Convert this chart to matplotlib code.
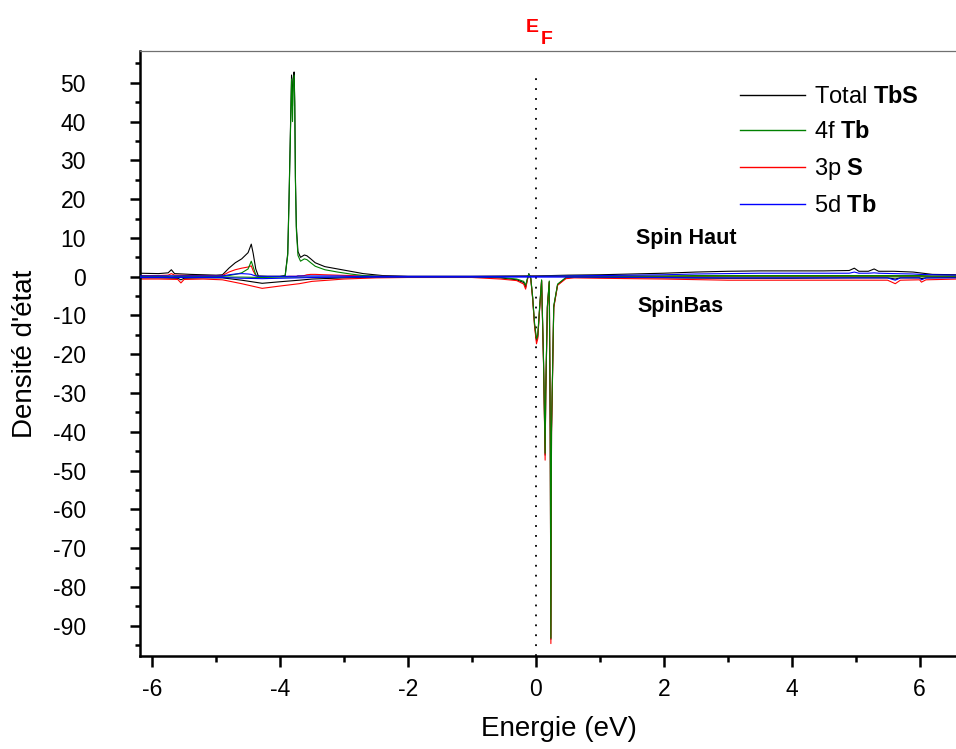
import matplotlib
matplotlib.use('Agg')
import matplotlib.pyplot as plt
from matplotlib.ticker import MultipleLocator

plt.rcParams['font.family'] = ['Liberation Sans', 'DejaVu Sans']
plt.rcParams['mathtext.fontset'] = 'custom'
plt.rcParams['mathtext.rm'] = 'Liberation Sans'
plt.rcParams['mathtext.bf'] = 'Liberation Sans:bold'
plt.rcParams['axes.unicode_minus'] = False

# spin up (positive)
e_up = [-6.2, -5.9, -5.75, -5.7, -5.65, -5.4, -5.0, -4.9, -4.8, -4.7, -4.6, -4.5,
        -4.45, -4.42, -4.38, -4.34, -4.2, -4.0, -3.92, -3.88, -3.86, -3.84, -3.82,
        -3.805, -3.795, -3.78, -3.77, -3.76, -3.745, -3.72, -3.68, -3.62, -3.58,
        -3.52, -3.45, -3.3, -3.1, -2.9, -2.7, -2.4, -2.0, -1.0, 0.0, 0.5, 1.0, 1.5,
        2.0, 2.5, 3.0, 3.5, 4.0, 4.5, 4.9, 4.98, 5.05, 5.2, 5.29, 5.36, 5.6, 5.9,
        6.0, 6.2, 6.6]
total_up = [0.9, 0.8, 1.0, 1.8, 0.8, 0.6, 0.4, 0.5, 2.2, 3.6, 4.6, 6.2,
            8.4, 6.0, 2.0, 0.2, 0.1, 0.1, 0.3, 6.0, 20.0, 36.0, 52.0,
            44.0, 51.0, 52.8, 45.0, 26.0, 13.0, 6.5, 5.0, 5.6, 5.4,
            4.6, 3.6, 2.6, 2.0, 1.4, 0.8, 0.3, 0.1, 0.1, 0.2, 0.4, 0.5, 0.7,
            0.9, 1.2, 1.4, 1.5, 1.5, 1.5, 1.6, 2.2, 1.4, 1.4, 2.0, 1.4, 1.4, 1.2,
            1.0, 0.6, 0.5]
f4_up = [0.1, 0.1, 0.1, 0.2, 0.1, 0.1, 0.1, 0.1, 0.3, 0.6, 1.0, 2.0,
         4.0, 2.5, 0.5, 0.05, 0.05, 0.05, 0.2, 5.5, 19.0, 35.0, 51.0,
         40.0, 50.0, 52.0, 44.0, 25.0, 12.0, 5.5, 4.0, 4.6, 4.4,
         3.6, 2.7, 1.8, 1.2, 0.7, 0.3, 0.1, 0.05, 0.05, 0.1, 0.2, 0.2, 0.2,
         0.2, 0.3, 0.3, 0.3, 0.3, 0.3, 0.3, 0.3, 0.3, 0.3, 0.3, 0.3, 0.3, 0.3,
         0.3, 0.2, 0.2]
p3_up = [0.3, 0.3, 0.4, 0.8, 0.4, 0.3, 0.3, 0.3, 1.2, 1.8, 2.2, 2.5,
         2.8, 1.5, 0.3, 0.05, 0.05, 0.05, 0.05, 0.05, 0.1, 0.1, 0.1,
         0.1, 0.1, 0.1, 0.1, 0.1, 0.1, 0.2, 0.2, 0.3, 0.5,
         0.6, 0.6, 0.5, 0.4, 0.3, 0.2, 0.1, 0.05, 0.05, 0.1, 0.1, 0.1, 0.1,
         0.1, 0.1, 0.1, 0.1, 0.1, 0.1, 0.1, 0.1, 0.1, 0.1, 0.1, 0.1, 0.1, 0.1,
         0.1, 0.1, 0.1]
d5_up = [0.2, 0.2, 0.2, 0.2, 0.2, 0.2, 0.2, 0.2, 0.5, 0.7, 0.8, 0.7,
         0.6, 0.4, 0.2, 0.1, 0.1, 0.1, 0.1, 0.1, 0.1, 0.1, 0.1,
         0.1, 0.1, 0.1, 0.1, 0.1, 0.1, 0.2, 0.2, 0.2, 0.2,
         0.2, 0.2, 0.2, 0.2, 0.1, 0.1, 0.1, 0.1, 0.1, 0.1, 0.2, 0.3, 0.4,
         0.5, 0.7, 0.8, 0.9, 0.9, 0.9, 0.9, 1.2, 0.9, 0.9, 1.0, 0.9, 0.8, 0.7,
         0.6, 0.5, 0.4]

# spin down (negative)
e_dn = [-6.2, -5.9, -5.6, -5.55, -5.5, -5.2, -4.9, -4.6, -4.28, -4.0, -3.7, -3.5,
        -3.0, -2.5, -2.0, -1.0, -0.55, -0.3, -0.19, -0.16, -0.13, -0.11, -0.08,
        -0.05, -0.02, 0.01, 0.03, 0.06, 0.09, 0.12, 0.145, 0.155, 0.18, 0.21,
        0.225, 0.235, 0.245, 0.28, 0.34, 0.47, 0.6, 1.0, 2.0, 3.0, 4.0, 5.0, 5.5,
        5.62, 5.7, 6.0, 6.03, 6.1, 6.6]
total_dn = [-0.3, -0.3, -0.4, -0.8, -0.4, -0.3, -0.3, -0.9, -1.7, -1.3, -0.9, -0.6,
            -0.3, -0.1, -0.1, -0.1, -0.3, -0.8, -1.5, -2.8, -0.5, 0.8, -0.3,
            -5.5, -12.5, -16.5, -15.5, -8.0, -1.0, -22.0, -46.0, -30.0, -8.0, -1.3,
            -40.0, -93.5, -40.0, -7.8, -2.1, -0.3, -0.1, -0.2, -0.3, -0.4, -0.4, -0.3, -0.3,
            -0.6, -0.3, -0.3, -0.5, -0.3, -0.2]
f4_dn = [-0.1, -0.1, -0.1, -0.1, -0.1, -0.1, -0.1, -0.1, -0.2, -0.1, -0.1, -0.1,
         -0.1, -0.05, -0.05, -0.05, -0.2, -0.6, -1.2, -2.2, -0.3, 0.7, -0.3,
         -5.2, -12.0, -16.0, -15.0, -7.5, -0.8, -21.5, -45.5, -29.0, -7.5, -1.1,
         -39.0, -93.2, -39.0, -7.5, -1.9, -0.2, -0.05, -0.05, -0.05, -0.05, -0.05, -0.05, -0.05,
         -0.05, -0.05, -0.05, -0.05, -0.05, -0.05]
p3_dn = [-0.6, -0.6, -0.7, -1.6, -0.7, -0.6, -0.8, -1.8, -3.0, -2.4, -1.8, -1.2,
         -0.6, -0.3, -0.2, -0.2, -0.6, -1.0, -1.9, -3.2, -0.6, 0.5, -0.5,
         -5.6, -12.8, -17.3, -16.0, -8.0, -1.0, -22.3, -47.3, -30.0, -8.0, -1.4,
         -40.5, -94.6, -40.5, -8.0, -2.2, -0.5, -0.3, -0.4, -0.6, -0.9, -0.9, -0.9, -0.9,
         -1.8, -0.9, -0.8, -1.4, -0.8, -0.6]
d5_dn = [-0.2, -0.2, -0.2, -0.2, -0.2, -0.2, -0.2, -0.4, -0.5, -0.4, -0.3, -0.2,
         -0.1, -0.1, -0.1, -0.1, -0.1, -0.1, -0.1, -0.1, -0.1, -0.1, -0.1,
         -0.1, -0.1, -0.1, -0.1, -0.1, -0.1, -0.1, -0.1, -0.1, -0.1, -0.1,
         -0.1, -0.1, -0.1, -0.1, -0.1, -0.1, -0.1, -0.1, -0.2, -0.3, -0.3, -0.3, -0.3,
         -0.9, -0.3, -0.3, -0.8, -0.3, -0.3]

series = [
    ('Total $\\mathbf{TbS}$', total_up, total_dn, 'black', 1),
    ('4f $\\mathbf{Tb}$', f4_up, f4_dn, 'green', 3),
    ('3p $\\mathbf{S}$', p3_up, p3_dn, 'red', 2),
    ('5d $\\mathbf{Tb}$', d5_up, d5_dn, 'blue', 4),
]
e_fermi = 0.0

fig = plt.figure(figsize=(9.56, 7.49), dpi=100)
ax = fig.add_axes([140 / 956, 1 - 656 / 749, 1 - 140 / 956, (656 - 51) / 749])

for label, up, dn, color, z in series:
    ax.plot(e_up, up, color=color, lw=0.8, zorder=z, label=label)
    ax.plot(e_dn, dn, color=color, lw=0.8, zorder=z)

ax.axvline(e_fermi, ymin=0, ymax=0.96, color='black', lw=1.3,
           linestyle=(0, (1, 4.5)), zorder=0)

ax.set_xlim(-6.19, 6.57)
ax.set_ylim(-97.8, 58.2)
ax.xaxis.set_major_locator(MultipleLocator(2))
ax.xaxis.set_minor_locator(MultipleLocator(1))
ax.yaxis.set_major_locator(MultipleLocator(10))
ax.yaxis.set_minor_locator(MultipleLocator(5))

for s in ['left', 'bottom']:
    ax.spines[s].set_linewidth(1.8)
ax.spines['right'].set_visible(False)
ax.spines['top'].set_color('#707070')
ax.spines['top'].set_linewidth(0.9)

ax.tick_params(axis='y', which='major', length=7, width=1.8, pad=32, labelsize=16.5)
ax.tick_params(axis='y', which='minor', length=3.5, width=1.8)
ax.tick_params(axis='x', which='major', length=8, width=1.8, pad=8, labelsize=16.5)
ax.tick_params(axis='x', which='minor', length=4, width=1.8)

ax.set_xlabel('Energie (eV)', fontsize=20)
ax.xaxis.set_label_coords(0.514, -0.099)
ax.set_ylabel("Densité d'état", fontsize=20)
ax.yaxis.set_label_coords(-0.125, 0.5)

leg = ax.legend(loc='upper left', bbox_to_anchor=((740 - 140) / 816, 1 - (86 - 51) / 605),
                frameon=False, fontsize=17, handlelength=2.75, handletextpad=0.4,
                labelspacing=0.55, borderpad=0, borderaxespad=0)
for h in leg.get_lines():
    h.set_linewidth(1.0)

ax.text(0.608, 0.681, 'Spin Haut', transform=ax.transAxes, fontsize=15.5,
        fontweight='bold', va='baseline')
ax.text(0.610, 0.569, 'SpinBas', transform=ax.transAxes, fontsize=15.5,
        fontweight='bold', va='baseline')

ax.annotate('E', xy=(e_fermi, 1), xycoords=('data', 'axes fraction'),
            xytext=(-7, 13.9), textcoords='offset points', color='red',
            fontsize=14, fontweight='bold', ha='left', va='baseline')
ax.annotate('F', xy=(e_fermi, 1), xycoords=('data', 'axes fraction'),
            xytext=(3.2, 5), textcoords='offset points', color='red',
            fontsize=14, fontweight='bold', ha='left', va='baseline')

fig.savefig('out.png', dpi=100)
